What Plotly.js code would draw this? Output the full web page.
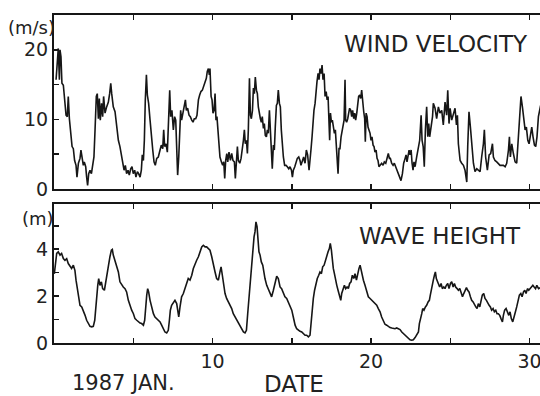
<!DOCTYPE html>
<html><head><meta charset="utf-8">
<script src="https://cdn.plot.ly/plotly-3.0.1.min.js"></script>
<style>html,body{margin:0;padding:0;background:#fff;overflow:hidden}</style>
</head><body><div id="chart" style="width:540px;height:396px"></div>
<script>
// Wind velocity (m/s) by day of January 1987
const windDay = [
0.13,0.21,0.27,0.34,0.38,0.44,0.50,0.59,0.67,0.76,
0.84,0.90,0.97,1.05,1.14,1.22,1.30,1.39,1.45,1.54,
1.64,1.70,1.79,1.85,1.91,2.00,2.06,2.12,2.19,2.27,
2.36,2.44,2.52,2.59,2.67,2.73,2.80,2.86,2.92,3.00,
3.07,3.13,3.22,3.32,3.43,3.51,3.58,3.64,3.74,3.85,
3.95,4.06,4.16,4.27,4.35,4.42,4.50,4.58,4.67,4.75,
4.84,4.92,5.00,5.09,5.17,5.26,5.34,5.43,5.51,5.57,
5.64,5.70,5.76,5.83,5.89,5.97,6.06,6.14,6.23,6.31,
6.39,6.48,6.58,6.69,6.77,6.86,6.92,6.98,7.07,7.15,
7.23,7.30,7.36,7.44,7.53,7.61,
7.68,7.74,7.80,7.87,7.93,7.99,8.05,8.14,8.22,8.29,
8.35,8.43,8.52,8.60,8.69,8.77,8.85,8.94,9.02,9.11,
9.19,9.27,9.36,9.44,9.52,9.61,9.67,9.74,9.80,9.84,
9.91,9.97,10.03,10.10,10.16,10.22,10.28,10.35,10.41,10.47,
10.56,10.64,10.71,10.77,10.83,10.90,10.96,11.04,11.13,11.21,
11.29,11.38,11.44,11.51,11.57,11.63,11.72,11.80,11.89,11.95,
12.01,12.07,12.14,12.20,12.26,12.33,12.39,12.45,12.52,12.58,
12.64,12.70,12.77,12.83,12.89,12.96,13.02,13.08,13.14,13.21,
13.27,13.33,13.40,13.46,13.52,13.59,13.65,13.71,13.77,13.84,
13.90,13.96,14.03,14.09,14.15,14.22,14.28,14.34,14.41,14.47,
14.55,14.64,14.72,14.81,14.89,14.98,15.04,15.10,15.19,15.27,
15.35,15.44,15.52,15.58,15.67,15.75,15.81,
15.84,15.92,16.00,16.09,16.15,16.21,16.28,16.34,16.40,16.47,
16.53,16.59,16.66,16.72,16.78,16.85,16.91,16.97,17.04,17.10,
17.17,17.23,17.29,17.35,17.39,17.44,17.50,17.56,17.63,17.69,
17.75,17.82,17.88,17.92,17.98,18.04,18.11,18.17,18.23,18.30,
18.36,18.40,18.46,18.53,18.59,18.65,18.72,18.78,18.84,18.91,
18.97,19.03,19.10,19.16,19.22,19.29,19.35,19.41,19.48,19.54,
19.60,19.64,19.69,19.75,19.81,19.87,19.94,20.00,20.06,20.13,
20.19,20.25,20.32,20.38,20.44,20.50,20.59,20.67,20.76,20.84,
20.93,21.01,21.09,21.16,21.22,21.30,21.39,21.47,21.56,21.64,
21.72,21.81,21.89,21.98,22.06,22.15,22.21,22.27,22.34,22.40,
22.46,22.53,22.59,22.65,22.71,
22.78,22.88,22.99,23.07,23.16,23.22,23.29,23.36,23.43,23.51,
23.58,23.64,23.70,23.79,23.88,23.93,24.04,24.14,24.25,24.35,
24.46,24.56,24.67,24.77,24.84,24.92,24.99,25.09,25.20,25.30,
25.39,25.45,25.51,25.62,25.72,25.83,25.93,26.04,26.10,26.18,
26.27,26.35,26.46,26.56,26.67,26.77,26.88,26.98,27.09,27.15,
27.23,27.34,27.45,27.55,27.66,27.72,27.82,27.93,28.03,28.14,
28.24,28.35,28.46,28.56,28.67,28.73,28.79,28.88,28.98,29.09,
29.19,29.30,29.38,29.46,29.55,29.63,29.72,29.80,29.89,29.97,
30.05,30.14,30.22,30.31,30.39,30.47,30.56,30.64,30.70
];
const windSpeed = [
15.7,18.3,20.2,15.7,20.0,19.0,15.2,14.9,13.3,10.6,
10.4,13.3,10.1,8.0,6.1,5.8,4.1,3.4,1.7,3.7,
4.4,5.6,4.6,3.4,3.9,3.2,1.7,0.5,2.2,2.7,
2.2,3.7,4.6,8.5,13.3,13.7,10.1,13.0,9.9,12.3,
10.4,13.3,10.9,11.8,12.5,13.7,15.2,13.7,11.8,11.1,
8.9,7.0,6.1,4.6,3.2,2.7,3.4,2.2,2.7,2.0,
2.9,3.2,2.2,2.7,1.7,2.5,2.2,1.7,2.7,4.9,
4.1,7.0,12.8,16.4,13.5,12.3,9.9,7.5,5.6,3.9,
3.4,4.4,4.6,5.6,6.3,5.8,8.5,6.1,6.5,5.3,
10.4,14.2,10.4,11.3,8.5,10.4,
9.9,4.6,2.0,4.6,8.5,11.3,9.9,11.1,11.6,12.8,
11.3,11.6,10.6,10.4,9.9,9.6,10.1,10.1,10.6,12.8,
13.5,14.0,14.2,14.7,15.2,15.9,16.9,17.3,16.4,17.3,
13.3,12.8,10.9,11.3,13.7,9.9,10.4,8.5,7.0,4.6,
3.9,3.4,3.9,1.5,4.1,5.1,3.9,5.3,4.1,5.1,
4.1,3.9,1.5,4.6,6.1,4.1,3.7,4.4,5.6,7.0,
8.5,6.5,7.0,5.1,8.5,15.9,10.6,10.1,11.3,14.5,
13.7,16.1,14.2,13.7,11.8,10.4,10.1,9.6,10.4,8.7,
9.4,7.7,7.5,8.5,8.0,11.3,8.9,6.1,2.9,6.3,
5.6,8.9,12.0,12.3,14.2,12.3,11.8,8.5,6.1,4.6,
3.4,3.4,3.2,2.9,3.2,2.7,1.7,2.7,3.2,3.9,
4.4,4.6,4.1,3.4,3.9,4.6,3.9,
3.7,5.6,4.9,2.7,3.9,5.6,7.5,9.9,11.3,12.3,
14.2,15.4,16.6,15.7,17.3,16.6,17.8,15.7,16.6,13.3,
14.0,12.8,13.3,10.6,7.0,10.9,9.6,9.9,8.9,8.0,
8.5,6.1,5.1,2.2,5.8,5.8,7.5,8.5,9.4,9.9,
15.7,9.9,9.6,10.1,10.9,11.6,11.3,10.4,11.3,10.1,
10.9,9.9,10.9,11.8,13.3,13.5,13.0,14.2,11.8,11.1,
10.1,6.8,10.9,10.4,8.9,8.5,8.0,7.0,7.5,6.3,
6.1,5.3,5.6,4.4,4.1,3.2,3.4,3.7,3.4,3.9,
3.7,4.4,5.1,4.4,4.4,3.7,3.4,3.7,3.2,2.7,
2.2,1.7,1.2,2.2,3.7,4.4,4.9,3.9,5.1,5.6,
4.9,5.6,3.7,2.7,3.9,
3.2,4.6,6.1,7.0,10.6,7.0,6.1,3.2,8.5,11.8,
7.5,9.4,7.5,8.9,10.4,12.3,11.6,10.1,11.8,10.9,
11.3,9.2,12.5,10.6,14.2,9.4,11.6,9.9,10.9,11.6,
9.2,10.6,6.5,4.1,3.7,3.4,2.7,1.0,6.1,11.1,
8.9,6.1,3.7,2.5,2.9,2.7,2.5,4.6,6.5,8.5,
4.6,2.7,4.9,5.1,6.5,4.6,4.1,3.9,3.7,3.4,
3.4,3.4,3.2,3.7,5.6,7.5,4.6,6.5,5.1,3.9,
3.7,7.5,10.4,13.3,11.8,10.4,8.5,8.9,7.0,6.5,
8.0,8.9,7.5,6.3,6.1,7.5,10.4,11.3,12.0
];
// Significant wave height (m) by day of January 1987
const waveDay = [
0.02,0.10,0.17,0.27,0.38,0.48,0.59,0.69,0.80,0.90,
1.01,1.11,1.22,1.32,1.39,1.47,1.56,1.64,1.75,1.85,
1.96,2.06,2.17,2.27,2.38,2.48,2.57,2.63,2.69,2.76,
2.82,2.90,2.99,3.07,3.18,3.28,3.36,3.45,3.53,3.62,
3.68,3.74,3.85,3.95,4.06,4.16,4.27,4.37,4.48,4.58,
4.69,4.80,4.90,5.01,5.11,5.22,5.32,5.43,5.53,5.64,
5.72,5.78,5.85,5.91,5.97,6.06,6.16,6.27,6.37,6.48,
6.58,6.69,6.79,6.90,7.00,7.11,7.21,7.28,7.34,7.42,
7.53,7.63,7.74,7.80,7.87,7.95,8.05,8.16,8.26,8.37,
8.47,8.58,8.69,8.79,8.90,9.00,9.11,9.21,9.32,9.42,
9.53,9.63,9.74,9.84,9.95,10.05,10.16,10.26,10.37,10.47,
10.54,10.62,10.68,10.79,10.89,11.00,11.10,11.21,11.31,11.42,
11.52,11.63,11.74,11.84,11.95,12.05,12.14,12.22,12.30,12.39,
12.47,12.56,12.62,12.68,12.74,12.81,12.87,12.93,13.00,13.08,
13.17,13.23,13.31,13.42,13.52,13.63,13.73,13.84,13.94,14.05,
14.15,14.26,14.36,14.47,14.57,14.68,14.78,14.89,15.00,
15.10,15.21,15.31,15.42,15.52,15.63,15.73,15.84,15.94,16.05,
16.15,16.21,16.28,16.36,16.44,16.53,16.61,16.70,16.78,16.87,
16.95,17.04,17.12,17.20,17.29,17.37,17.43,17.50,17.56,17.62,
17.69,17.75,17.84,17.92,18.00,18.09,18.15,18.23,18.32,18.40,
18.49,18.57,18.65,18.74,18.82,18.91,18.99,19.08,19.16,19.24,
19.31,19.37,19.43,19.52,19.62,19.73,19.83,19.94,20.04,20.15,
20.25,20.36,20.46,20.57,20.67,20.78,20.88,20.99,21.10,21.20,
21.31,21.41,21.51,21.62,21.73,21.83,21.94,22.04,22.15,22.25,
22.36,22.46,22.57,22.67,22.78,22.88,22.99,23.05,23.12,23.20,
23.26,23.34,23.43,23.51,23.60,23.68,23.74,23.81,23.87,23.93,
24.00,24.06,24.12,24.19,24.25,24.33,24.42,24.50,24.59,24.67,
24.75,24.84,24.92,25.01,25.09,25.18,25.26,25.34,25.43,25.51,
25.60,25.68,25.77,25.85,25.93,26.02,26.10,26.18,26.27,26.35,
26.44,26.52,26.61,26.69,26.77,26.86,26.94,27.02,27.11,27.19,
27.28,27.36,27.45,27.53,27.61,27.70,27.78,27.87,27.95,28.03,
28.12,28.20,28.29,28.35,28.43,28.52,28.60,28.69,28.77,28.85,
28.94,29.02,29.11,29.19,29.28,29.36,29.45,29.53,29.62,29.70,
29.78,29.87,29.95,30.04,30.12,30.21,30.29,30.38,30.46,30.57,
30.67
];
const waveHeight = [
2.95,3.40,3.82,3.89,3.75,3.82,3.60,3.53,3.60,3.39,
3.25,3.18,3.32,3.10,2.68,2.39,2.04,1.61,1.54,1.40,
1.18,0.97,0.83,0.71,0.69,0.71,0.97,1.54,2.11,2.46,
2.75,2.46,2.61,2.32,2.25,2.68,3.03,3.46,3.68,3.96,
3.99,3.75,3.46,3.25,3.03,2.61,2.46,2.39,2.32,2.18,
1.82,1.54,1.40,1.25,1.04,0.97,0.90,0.85,0.83,0.76,
0.97,1.54,2.04,2.32,2.18,1.82,1.47,1.25,1.11,1.04,
0.97,0.90,0.76,0.61,0.47,0.43,0.54,0.97,1.40,1.61,
1.75,1.82,1.68,1.40,1.11,1.54,1.97,2.11,2.32,2.46,
2.75,2.68,2.89,3.18,3.39,3.53,3.68,3.89,4.10,4.17,
4.10,4.10,4.03,3.96,3.68,3.32,3.03,2.75,2.68,3.03,
3.25,2.89,2.54,2.11,1.90,1.75,1.61,1.47,1.25,1.11,
0.97,0.83,0.69,0.61,0.47,0.43,0.54,1.25,1.97,2.68,
3.39,3.96,4.53,4.74,5.17,4.96,4.46,3.89,3.75,3.46,
3.32,3.03,2.75,2.46,2.32,2.11,1.97,2.25,2.61,2.85,
2.75,2.39,2.32,2.11,1.97,1.90,1.75,1.54,1.40,
1.10,0.76,0.61,0.54,0.50,0.47,0.40,0.33,0.33,0.26,
0.33,0.83,1.40,1.90,2.25,2.54,2.75,2.89,3.03,2.96,
3.25,3.32,3.53,3.68,3.89,4.03,4.25,3.96,3.53,3.18,
2.96,2.68,2.46,2.25,1.97,1.82,2.11,2.32,2.46,2.32,
2.39,2.32,2.54,2.61,2.89,2.75,2.96,2.68,3.03,3.18,
3.32,3.10,2.89,2.68,2.46,2.18,1.97,1.90,1.82,1.75,
1.68,1.61,1.47,1.33,1.11,0.90,0.80,0.76,0.69,0.66,
0.64,0.61,0.61,0.64,0.61,0.57,0.47,0.40,0.33,0.26,
0.19,0.14,0.12,0.14,0.23,0.33,0.47,0.83,1.11,1.25,
1.47,1.40,1.54,1.61,1.75,1.82,2.04,2.32,2.61,2.68,
2.89,3.03,2.75,2.61,2.46,2.39,2.54,2.32,2.39,2.32,
2.46,2.54,2.32,2.54,2.61,2.39,2.54,2.39,2.32,2.25,
2.32,2.18,1.97,2.11,2.25,2.36,2.25,2.18,1.97,1.82,
1.75,1.61,1.54,1.47,1.68,1.54,1.82,2.04,2.11,1.90,
1.82,1.68,1.61,1.54,1.40,1.47,1.33,1.40,1.25,1.25,
1.18,1.04,0.90,1.18,1.40,1.47,1.33,1.18,1.33,1.04,
0.90,1.18,1.33,1.54,1.75,2.04,2.11,1.97,2.18,2.25,
2.11,2.32,2.25,2.32,2.39,2.46,2.39,2.32,2.46,2.32,
2.36
];
const dayTicks = [5, 10, 15, 20, 25, 30];
const dayTickText = ['', '10', '', '20', '', '30'];
const windTicks = [0, 5, 10, 15, 20];
const windTickText = ['0', '', '10', '', '20'];
const waveTicks = [0, 1, 2, 3, 4, 5];
const waveTickText = ['0', '', '2', '', '4', ''];

const INK = '#161616';
const FONT = 'DejaVu Sans, Liberation Sans, sans-serif';
const tickFont = {family: FONT, size: 19, color: '#222'};
const base = {
  showline: true, linecolor: INK, linewidth: 2,
  ticks: 'inside', ticklen: 5, tickwidth: 1.5, tickcolor: INK,
  showgrid: false, zeroline: false, tickfont: tickFont, fixedrange: true,
  ticklabeloverflow: 'allow'
};
const xRange = [0, 30.66];

const traces = [
  {x: windDay, y: windSpeed, xaxis: 'x', yaxis: 'y', mode: 'lines', type: 'scatter',
   line: {color: INK, width: 1.6}, hoverinfo: 'skip'},
  {x: waveDay, y: waveHeight, xaxis: 'x2', yaxis: 'y2', mode: 'lines', type: 'scatter',
   line: {color: INK, width: 1.6}, hoverinfo: 'skip'}
];

function ann(text, x, y, size, h) {
  return {text: text, xref: 'paper', yref: 'paper', x: x, y: y, xanchor: 'center', yanchor: 'middle',
          height: h || Math.round(size * 1.05), borderpad: 0,
          showarrow: false, font: {family: FONT, size: size, color: '#222'}};
}

const layout = {
  width: 540, height: 396,
  margin: {l: 54, r: 0, t: 15, b: 53, pad: 0},
  paper_bgcolor: '#ffffff', plot_bgcolor: '#ffffff',
  showlegend: false,
  xaxis: Object.assign({}, base, {domain: [0, 1], anchor: 'y', range: xRange, mirror: 'ticks',
          tickvals: dayTicks, ticktext: dayTickText, showticklabels: false}),
  yaxis: Object.assign({}, base, {domain: [0.4695, 1], anchor: 'x', range: [0, 25], mirror: false,
          tickvals: windTicks, ticktext: windTickText}),
  xaxis2: Object.assign({}, base, {domain: [0, 1], anchor: 'y2', range: xRange, mirror: 'ticks',
          tickvals: dayTicks, ticktext: dayTickText}),
  yaxis2: Object.assign({}, base, {domain: [0, 0.4238], anchor: 'x2', range: [0, 5.93], mirror: false,
          tickvals: waveTicks, ticktext: waveTickText}),
  annotations: [
    ann('(m/s)', -0.047, 0.962, 18),
    ann('(m)', -0.033, 0.380, 18),
    ann('WIND VELOCITY', 0.785, 0.912, 23),
    ann('WAVE HEIGHT', 0.795, 0.326, 23),
    ann('1987 JAN.', 0.143, -0.122, 21),
    ann('DATE', 0.493, -0.1265, 23, 20)
  ]
};

Plotly.newPlot('chart', traces, layout, {displayModeBar: false, staticPlot: true});
</script>
</body></html>
